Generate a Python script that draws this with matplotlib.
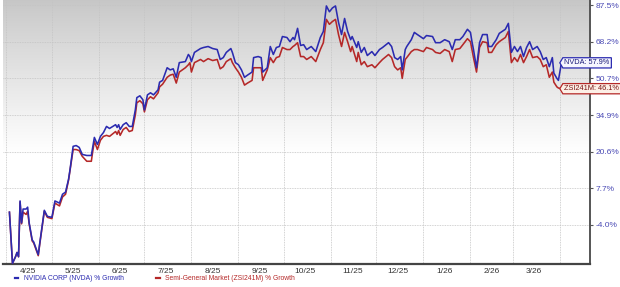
import numpy as np
import pandas as pd
import matplotlib
matplotlib.use('Agg')
import matplotlib.pyplot as plt
import matplotlib.dates as mdates
from matplotlib.lines import Line2D
from matplotlib.path import Path

# day offsets from 2025-04-01 and % growth readings
start = pd.Timestamp('2025-04-01')
days = [2, 4, 6, 7, 8, 9, 10, 11, 13, 14, 15, 17, 18, 21, 22, 25, 27, 30, 32, 35,
        37, 39, 41, 42, 44, 46, 48, 50, 53, 56, 57, 58, 60, 62, 64, 66, 68, 72, 73, 74,
        75, 77, 79, 81, 83, 85, 86, 88, 90, 91, 93, 95, 97, 100, 101, 103, 106, 108, 110, 112,
        114, 118, 120, 121, 122, 124, 128, 130, 133, 136, 139, 141, 143, 145, 148, 149, 151, 153, 155, 157,
        159, 162, 163, 166, 168, 169, 172, 174, 176, 178, 180, 182, 185, 187, 189, 190, 192, 194, 196, 198,
        201, 204, 207, 209, 211, 213, 215, 217, 219, 221, 223, 225, 227, 228, 231, 232, 234, 236, 238, 241,
        243, 246, 248, 252, 254, 256, 258, 260, 261, 263, 264, 267, 269, 271, 275, 277, 281, 283, 286, 289,
        292, 294, 296, 299, 301, 304, 306, 307, 308, 310, 312, 314, 317, 318, 320, 323, 325, 329, 331, 333,
        335, 337, 339, 341, 343, 345, 347, 350, 352, 354, 356, 358, 360, 361, 363, 364, 366]

nvda = [-0.1, -15.1, -13.3, -12.1, -13.3, 3.5, -3.4, 0.9, 0.9, 1.5, -3.4, -8.5, -9.1, -12.7, -9.4, 0.5, -1.4, -1.7, 3.5, 2.8,
        5.7, 6.4, 10.8, 14.3, 22.6, 22.9, 22.2, 19.6, 19.2, 19.2, 22.6, 26.0, 23.3, 26.4, 27.9, 30.3, 29.5, 31.0, 29.9, 31.0,
        29.1, 31.0, 31.8, 30.3, 30.3, 37.0, 42.2, 43.0, 41.3, 37.0, 43.4, 44.3, 43.4, 45.6, 49.0, 49.8, 55.6, 54.6, 55.1, 51.2,
        58.0, 58.5, 61.9, 60.9, 58.5, 62.9, 64.8, 65.3, 65.8, 64.8, 64.3, 59.5, 60.4, 62.9, 64.8, 62.9, 58.0, 57.0, 54.6, 51.2,
        52.2, 53.6, 60.4, 60.9, 60.4, 53.6, 55.6, 65.8, 61.9, 65.3, 65.8, 70.8, 70.3, 68.2, 70.3, 69.2, 75.0, 66.3, 66.7, 64.3,
        65.8, 63.3, 70.3, 73.4, 87.0, 83.8, 85.9, 87.0, 78.1, 71.8, 80.2, 73.4, 69.2, 70.8, 65.3, 68.2, 62.9, 65.3, 61.4, 63.3,
        61.4, 64.3, 65.3, 67.7, 65.8, 60.4, 59.5, 60.9, 54.6, 64.3, 65.8, 69.2, 72.9, 71.8, 69.7, 71.3, 70.8, 67.7, 67.7, 69.2,
        68.2, 64.3, 69.2, 69.2, 70.8, 74.5, 72.9, 68.2, 64.3, 55.6, 67.7, 71.8, 71.8, 65.8, 65.8, 69.2, 72.4, 74.5, 77.6, 62.9,
        65.8, 63.3, 65.8, 60.9, 65.3, 68.2, 64.3, 65.8, 63.3, 59.5, 60.4, 56.1, 60.4, 53.1, 50.7, 49.8, 57.9]

semi = [-0.1, -15.1, -13.3, -12.1, -13.3, 3.2, -3.7, -0.1, -0.8, 0.2, -3.7, -8.8, -9.4, -13.0, -9.7, 0.2, -1.7, -2.1, 2.8, 1.9,
        4.8, 5.7, 10.5, 14.0, 21.4, 21.4, 21.0, 18.9, 17.1, 17.1, 21.0, 24.5, 21.4, 24.9, 26.4, 26.8, 26.4, 28.3, 27.2, 28.7,
        26.8, 29.1, 29.9, 28.3, 28.7, 34.9, 40.0, 40.9, 39.6, 36.2, 41.3, 42.6, 41.7, 44.3, 46.9, 48.1, 51.2, 52.2, 52.6, 48.6,
        53.6, 55.6, 57.0, 58.0, 53.6, 58.0, 59.5, 58.5, 59.9, 59.0, 59.5, 55.1, 56.1, 58.5, 59.9, 58.0, 55.6, 53.6, 51.2, 47.7,
        48.6, 49.8, 55.6, 55.6, 55.6, 49.8, 54.6, 60.4, 58.0, 60.4, 60.9, 65.3, 64.3, 64.3, 65.8, 66.3, 67.7, 60.9, 60.9, 59.5,
        60.9, 58.5, 64.3, 67.7, 79.7, 77.1, 78.6, 79.7, 71.8, 65.8, 72.9, 68.2, 63.3, 65.8, 58.5, 62.9, 57.0, 58.5, 56.1, 57.0,
        55.6, 58.0, 59.5, 61.9, 60.4, 56.1, 54.6, 55.6, 50.7, 59.5, 60.4, 63.3, 64.3, 64.3, 63.3, 65.3, 64.3, 62.9, 62.4, 64.3,
        63.3, 58.5, 64.3, 64.8, 66.7, 69.7, 68.2, 64.3, 60.4, 53.6, 65.3, 68.2, 67.7, 62.9, 62.9, 66.7, 68.2, 70.3, 73.4, 58.0,
        60.4, 58.5, 61.9, 58.0, 60.9, 64.3, 60.4, 60.9, 59.5, 56.1, 57.0, 51.2, 53.6, 49.0, 46.9, 46.4, 46.1]

y_ticks = [-4.0, 7.7, 20.6, 34.9, 50.7, 68.2, 87.5]
nvda_label = 'NVIDIA CORP (NVDA) % Growth'
semi_label = 'Semi-General Market (ZSI241M) % Growth'

BLUE = '#2b2bb0'
RED = '#b52828'
FONT = 'Liberation Sans'

dates = start + pd.to_timedelta(days, unit='D')

fig = plt.figure(figsize=(6.2, 2.87), dpi=100)
ax = fig.add_axes([3 / 620, 23 / 287, 587 / 620, 264 / 287])

# background gradient (gray at top fading to white)
t = np.linspace(0, 1, 200)
shade = 0.78 + 0.22 * np.clip(t / 0.58, 0, 1) ** 0.9
grad = np.dstack([shade, shade, shade])[0][:, None, :]
ax.imshow(grad, extent=[0, 1, 0, 1], transform=ax.transAxes, aspect='auto', zorder=0)

ax.plot(dates, semi, color=RED, lw=1.15, zorder=3)
ax.plot(dates, nvda, color=BLUE, lw=1.15, zorder=4)

off = 115.6
ax.set_yscale('function', functions=(lambda v: np.log(np.maximum(v + off, 1e-6)),
                                     lambda u: np.exp(u) - off))
ax.set_ylim(-15.3, 90.3)
ax.set_xlim(pd.Timestamp('2025-03-29 18:00'), pd.Timestamp('2026-04-20 20:00'))

ax.yaxis.tick_right()
ax.set_yticks(y_ticks)
ax.set_yticklabels([f'{v:.1f}%' for v in y_ticks])
ax.tick_params(axis='y', length=2.5, width=0.8, color='#555555', pad=1.5,
               labelsize=6, labelcolor='#4b4bb5')
for lab in ax.get_yticklabels():
    lab.set_family(FONT)

# gridlines at month starts, labels mid-month
ax.xaxis.set_major_locator(mdates.MonthLocator(bymonthday=1))
ax.xaxis.set_major_formatter(plt.NullFormatter())
mid_months = pd.date_range('2025-04-01', '2026-03-01', freq='MS') + pd.Timedelta(days=14)
ax.set_xticks(mid_months, minor=True)
ax.xaxis.set_minor_formatter(mdates.DateFormatter('%-m/%y'))
ax.tick_params(axis='x', which='both', length=0, pad=3, labelsize=6, labelcolor='#333333')
for lab in ax.get_xticklabels(minor=True):
    lab.set_family(FONT)

ax.grid(True, which='major', color='#c4c4c4', lw=0.6, ls=(0, (1, 1)), zorder=1)

for s in ['top', 'left']:
    ax.spines[s].set_visible(False)
ax.spines['bottom'].set_color('#444444')
ax.spines['bottom'].set_linewidth(1.6)
ax.spines['right'].set_color('#555555')
ax.spines['right'].set_linewidth(1.4)


def tag_box(x0, y0, width, height, mutation_size):
    pad = 0.22 * mutation_size
    x0, y0 = x0 - pad, y0 - pad
    x1, y1 = x0 + width + 2 * pad, y0 + height + 2 * pad
    tip = (y1 - y0) / 2
    verts = [(x0, y0), (x1, y0), (x1, y1), (x0, y1), (x0 - tip * 0.6, (y0 + y1) / 2), (x0, y0)]
    return Path(verts, closed=True)


ax.annotate(f'NVDA: {nvda[-1]:.1f}%', xy=(dates[-1], nvda[-1]), xytext=(2.2, 0),
            textcoords='offset points', ha='left', va='center', fontsize=5.3,
            family=FONT, color='#1c1c78', zorder=6, annotation_clip=False,
            bbox=dict(boxstyle=tag_box, fc='#f6f6ff', ec=BLUE, lw=0.9))
ax.annotate(f'ZSI241M: {semi[-1]:.1f}%', xy=(dates[-1], semi[-1]), xytext=(2.2, 0),
            textcoords='offset points', ha='left', va='center', fontsize=5.3,
            family=FONT, color='#7a1414', zorder=6, annotation_clip=False,
            bbox=dict(boxstyle=tag_box, fc='#fcefe6', ec=RED, lw=0.9))

handles = [Line2D([], [], color=BLUE, lw=1.6), Line2D([], [], color=RED, lw=1.6)]
fig.legend(handles, [nvda_label, semi_label], ncol=2, loc='center left',
           bbox_to_anchor=(15 / 620, 8 / 287), frameon=False, handlelength=0.5,
           handletextpad=0.8, columnspacing=4.8, borderpad=0, borderaxespad=0,
           labelcolor='linecolor', prop={'family': FONT, 'size': 4.9})

fig.savefig('out.png', dpi=100)
